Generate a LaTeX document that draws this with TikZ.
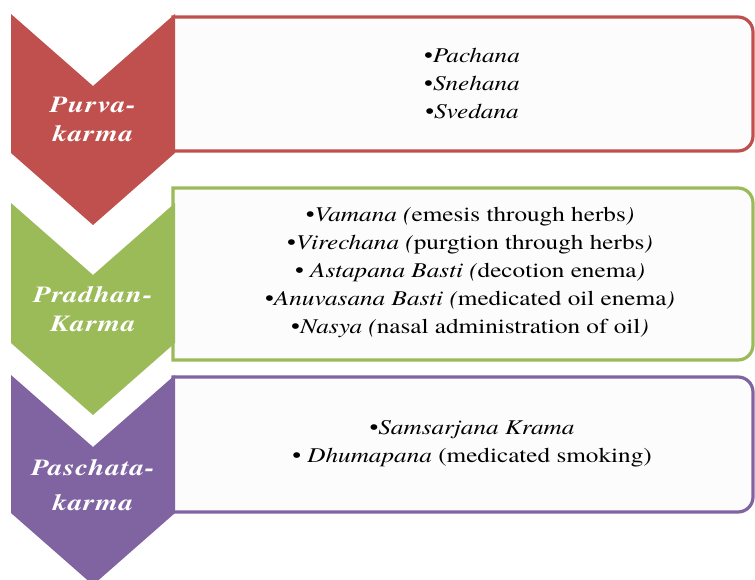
\documentclass[tikz,border=0pt]{standalone}
\usepackage{fontspec}
\IfFontExistsTF{texgyretermes-regular.otf}{%
  \newfontfamily\itemfont{texgyretermes}[Extension=.otf,UprightFont=*-regular,ItalicFont=*-italic,BoldFont=*-bold,BoldItalicFont=*-bolditalic,FakeStretch=1.2]
  \newfontfamily\lblfont{texgyretermes}[Extension=.otf,UprightFont=*-regular,ItalicFont=*-italic,BoldFont=*-bold,BoldItalicFont=*-bolditalic,FakeStretch=1.25,LetterSpace=4]
}{%
  \newfontfamily\itemfont{Liberation Serif}[FakeStretch=1.2]
  \newfontfamily\lblfont{Liberation Serif}[FakeStretch=1.25,LetterSpace=4]
}
\definecolor{cred}{HTML}{C0504D}
\definecolor{cgreen}{HTML}{9BBB59}
\definecolor{cpurple}{HTML}{8064A2}
\definecolor{boxfill}{HTML}{FCFCFC}
\begin{document}
\begin{tikzpicture}[x=1pt,y=-1pt,
  panel/.style={line width=3.2pt, fill=boxfill},
  lbl/.style={text=white, font=\lblfont\fontsize{23}{29}\selectfont\bfseries\itshape, align=center, inner sep=0pt},
  items/.style={font=\itemfont\fontsize{21}{28}\selectfont, align=center, inner sep=0pt}]
\useasboundingbox (0,0) rectangle (755,580);
% panels
\draw[panel, draw=cred] (173,17) -- (738,17) arc[start angle=-90,end angle=0,radius=15] -- (753,136) arc[start angle=0,end angle=90,radius=15] -- (173,151) -- cycle;
\draw[panel, draw=cgreen] (173,188) -- (738,188) arc[start angle=-90,end angle=0,radius=15] -- (753,345) arc[start angle=0,end angle=90,radius=15] -- (173,360) -- cycle;
\draw[panel, draw=cpurple] (173,377) -- (738,377) arc[start angle=-90,end angle=0,radius=15] -- (753,497) arc[start angle=0,end angle=90,radius=15] -- (173,512) -- cycle;
% chevrons
\fill[cred] (11,14) -- (93,86) -- (175,14) -- (175,153) -- (93,225) -- (11,153) -- cycle;
\fill[cgreen] (11,203) -- (93,275) -- (175,203) -- (175,343) -- (93,415) -- (11,343) -- cycle;
\fill[cpurple] (11,375) -- (93,447) -- (175,375) -- (175,513) -- (93,585) -- (11,513) -- cycle;
% labels
\node[lbl] (l1) at (93,119) {Purva-\\karma};
\node[lbl] (l2) at (93,309) {Pradhan-\\Karma};
\node[lbl] (l3) at (93,485) {Paschata-\\[6pt]karma};
% items
\node[items] (i1) at (472,84) {\textbullet\textit{Pachana}\\\textbullet\textit{Snehana}\\\textbullet\textit{Svedana}};
\node[items] (i2) at (470,272) {\textbullet\textit{Vamana} \textit{(}emesis through herbs\textit{)}\\
\textbullet\textit{Virechana} \textit{(}purgtion through herbs\textit{)}\\
\textbullet\ \textit{Astapana Basti} \textit{(}decotion enema\textit{)}\\
\textbullet\textit{Anuvasana Basti} \textit{(}medicated oil enema\textit{)}\\
\textbullet\textit{Nasya} \textit{(}nasal administration of oil\textit{)}};
\node[items] (i3) at (472,444) {\textbullet\textit{Samsarjana Krama}\\\textbullet\ \textit{Dhumapana} (medicated smoking)};
\end{tikzpicture}
\end{document}
